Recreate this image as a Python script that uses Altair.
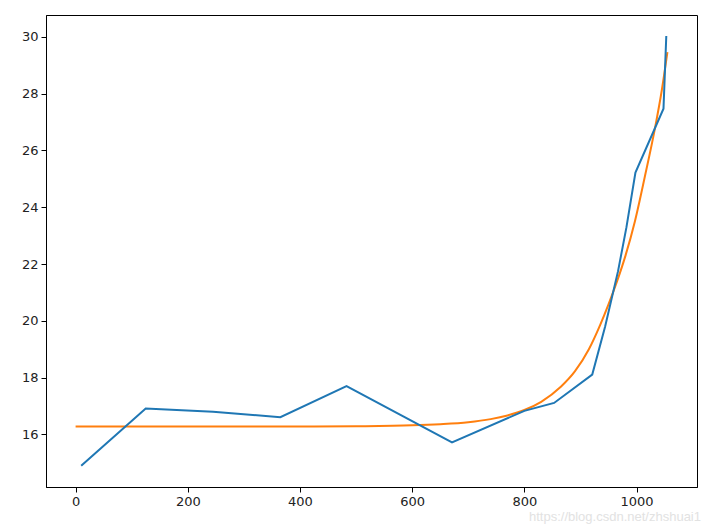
import altair as alt
import pandas as pd

# Observed data (blue)
obs_x = [10, 125, 245, 365, 483, 671, 800, 853, 921, 944, 967, 982, 998, 1048, 1053]
obs_y = [14.90, 16.91, 16.80, 16.61, 17.70, 15.72, 16.83, 17.11, 18.11, 19.80, 21.75, 23.30,
         25.22, 27.47, 30.03]

# Fitted curve (orange)
fit_x = [0, 200, 400, 500, 600, 650, 700, 740, 770, 800, 830, 865, 890, 915, 935,
         950, 965, 980, 997, 1015, 1032, 1045, 1055]
fit_y = [16.28, 16.28, 16.28, 16.29, 16.32, 16.36, 16.43, 16.54, 16.67, 16.86, 17.15, 17.68,
         18.22, 19.00, 19.85, 20.58, 21.38, 22.28, 23.50, 25.10, 26.70, 28.12, 29.46]

x_ticks = [0, 200, 400, 600, 800, 1000]
y_ticks = [16, 18, 20, 22, 24, 26, 28, 30]

obs = pd.DataFrame({"x": obs_x, "y": obs_y})
fit = pd.DataFrame({"x": fit_x, "y": fit_y})

xscale = alt.Scale(domain=[-52.75, 1107.75], nice=False, zero=False)
yscale = alt.Scale(domain=[14.15, 30.77], nice=False, zero=False)

xaxis = alt.Axis(values=x_ticks, title=None, grid=False, format="d")
yaxis = alt.Axis(values=y_ticks, title=None, grid=False, format="d")

blue = alt.Chart(obs).mark_line(color="#1f77b4", strokeWidth=2).encode(
    x=alt.X("x:Q", scale=xscale, axis=xaxis),
    y=alt.Y("y:Q", scale=yscale, axis=yaxis),
)

orange = alt.Chart(fit).mark_line(color="#ff7f0e", strokeWidth=2, interpolate="monotone").encode(
    x=alt.X("x:Q", scale=xscale),
    y=alt.Y("y:Q", scale=yscale),
)

wm = alt.Chart(pd.DataFrame({"t": ["https://blog.csdn.net/zhshuai1"]})).mark_text(
    align="right", baseline="middle", fontSize=13, font="Liberation Sans", color="#e2e2e2"
).encode(text="t:N", x=alt.value(655), y=alt.value(502))

chart = alt.layer(orange, blue, wm).properties(
    width=651, height=472,
    autosize=alt.AutoSizeParams(type="none"),
    padding={"left": 38, "top": 7, "right": 5, "bottom": 40},
).configure_view(stroke="black", strokeWidth=1).configure_axis(
    domainColor="black", tickColor="black", labelColor="#222222",
    labelFont="DejaVu Sans", labelFontSize=13, tickSize=5, labelPadding=3,
    domainWidth=1, tickWidth=1,
)

chart.save("out.html", embed_options={"renderer": "svg", "actions": False})
